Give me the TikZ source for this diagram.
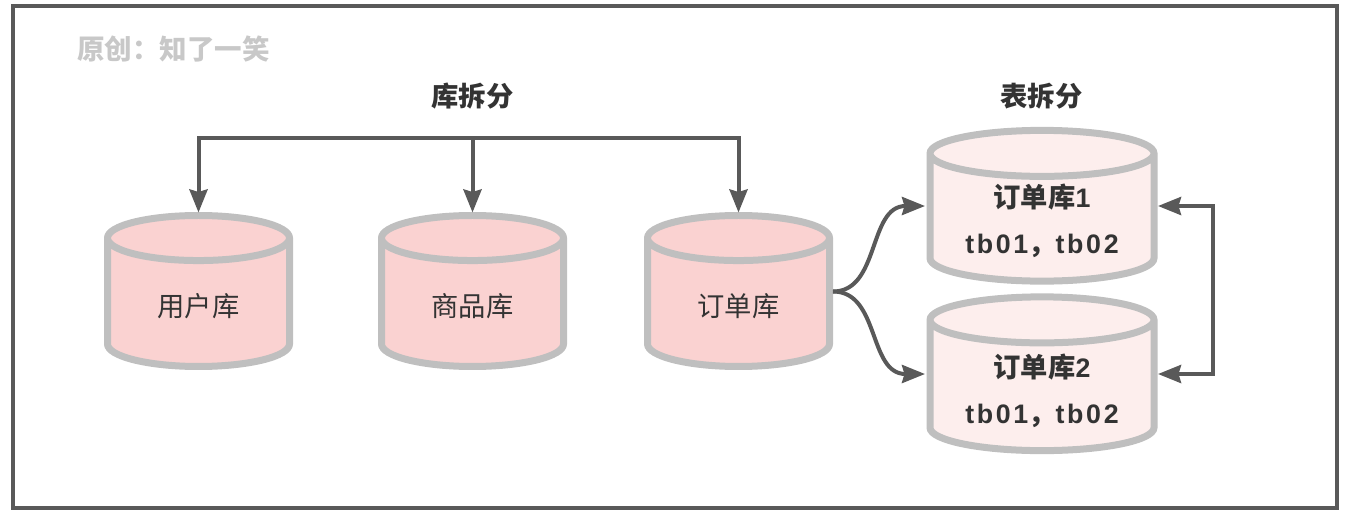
\documentclass[tikz,border=0pt]{standalone}
\usepackage{fontspec}
\setmainfont{Noto Sans CJK SC}
\newfontfamily\latinfont[Scale=0.98,LetterSpace=10]{Liberation Sans}
\usetikzlibrary{arrows.meta,shapes.geometric}
\definecolor{FigureLine}{HTML}{595959}
\definecolor{FigureEdge}{HTML}{BFBFBF}
\definecolor{FigurePink}{HTML}{FAD2D1}
\definecolor{FigurePale}{HTML}{FDEEED}
\definecolor{FigureText}{HTML}{333333}
\definecolor{FigureMark}{HTML}{C8C8C8}
\newcommand{\firstline}[1]{\rule{0pt}{#1pt}}
\tikzset{
  headtip/.tip={Stealth[inset=2.5pt,length=23pt,width=18pt]},
  dbbase/.style={shape=cylinder,shape border rotate=90,draw=FigureEdge,line width=7pt,
    cylinder uses custom fill,outer sep=0pt,inner sep=0pt,text=FigureText,align=center},
  dbmain/.style={dbbase,shape aspect=0.55,cylinder body fill=FigurePink,cylinder end fill=FigurePink,minimum width=182pt,minimum height=151pt,text height=25pt,text depth=0pt,font=\fontsize{27.3}{46}\selectfont},
  dbpart/.style={dbbase,shape aspect=0.30,cylinder body fill=FigurePale,cylinder end fill=FigurePale,minimum width=224pt,minimum height=142pt,font=\fontsize{27.3}{46}\selectfont\bfseries},
  heading/.style={text=FigureText,font=\fontsize{27.3}{30}\selectfont\bfseries},
  link/.style={draw=FigureLine,line width=4pt,-headtip}
}
\begin{document}
\begin{tikzpicture}[x=1pt,y=-1pt,line join=miter]
  \useasboundingbox (0,0) rectangle (1348,515);
  \node[draw=FigureLine,line width=4pt,minimum width=1324pt,minimum height=502pt,inner sep=0pt] (frame) at (675,257) {};
  \node[text=FigureMark,font=\fontsize{27.5}{30}\selectfont\bfseries] (mark) at (173.5,49) {原创：知了一笑};
  \node[heading] (splitdb) at (472.5,96) {库拆分};
  \node[heading] (splittb) at (1041.5,96) {表拆分};
  \node[dbmain] (users) at (198.5,304) {用户库};
  \node[dbmain] (goods) at (472.5,304) {商品库};
  \node[dbmain] (orders) at (738.5,304) {订单库};
  \node[dbpart] (order1) at (1042,219) {\firstline{28}订单库{\latinfont 1}\\{\latinfont tb01}，{\latinfont tb02}};
  \node[dbpart,minimum height=151pt] (order2) at (1042,387) {\firstline{31}订单库{\latinfont 2}\\{\latinfont tb01}，{\latinfont tb02}};
  % top bar
  \coordinate (bar) at (472.5,138);
  \draw[link] (bar) -| ([yshift=3pt]users.north);
  \draw[link] (bar) -- ([yshift=3pt]goods.north);
  \draw[link] (bar) -| ([yshift=3pt]orders.north);
  % curves to the table copies
  \coordinate (fork) at (833,291.5);
  \coordinate (in1) at (925,206); \coordinate (in2) at (925,374);
  \draw[link] (fork) .. controls (880,291.5) and (868,206) .. (in1);
  \draw[link] (fork) .. controls (880,291.5) and (868,374) .. (in2);
  % sync between copies
  \coordinate (sync1) at (1213,206); \coordinate (sync2) at (1213,374);
  \coordinate (out1) at (1158,206); \coordinate (out2) at (1158,374);
  \draw[link,headtip-headtip] (out1) -- (sync1) -- (sync2) -- (out2);
\end{tikzpicture}
\end{document}
